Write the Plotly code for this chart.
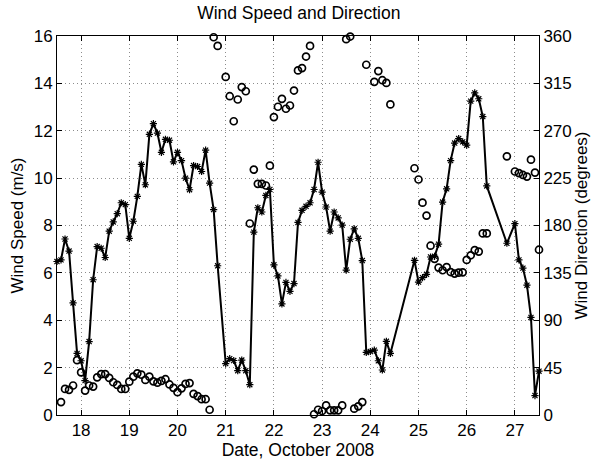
import plotly.graph_objects as go

# hours after 17 Oct 2008 00:00
speed_hours = [12,14,16,18,20,22,24,26,28,30,32,34,36,38,40,42,44,46,48,50,52,54,56,58,60,62,64,66,68,70,72,74,76,78,80,82,84,86,88,90,92,
               96,98,100,102,104,106,108,110,112,114,116,118,120,122,124,126,128,130,132,134,136,138,140,142,144,146,148,150,152,154,156,158,160,162,164,166,168,170,172,174,176,178,
               190,192,194,196,198,200,202,204,206,208,210,212,214,216,218,220,222,224,226,
               236,
               240,242,244,246,248,250,252]
speed = [6.48,6.55,7.43,6.92,4.73,2.60,2.29,1.45,3.10,5.71,7.11,7.04,6.65,7.76,8.15,8.50,8.96,8.88,7.46,8.18,9.23,10.58,9.72,11.85,12.30,11.90,11.09,11.64,11.60,10.69,11.09,10.74,10.00,9.51,10.53,10.49,10.28,11.18,9.79,8.67,6.30,
         2.17,2.38,2.30,1.87,2.32,1.87,1.28,7.72,8.75,8.57,9.27,9.52,6.34,5.87,4.69,5.60,5.22,5.55,8.13,8.64,8.81,8.96,9.52,10.67,9.41,8.78,7.76,8.57,8.32,8.02,6.12,7.42,7.86,7.46,6.52,2.64,2.68,2.74,2.29,1.90,3.11,2.60,
         6.53,5.61,5.80,5.94,6.67,6.70,7.21,8.99,9.55,10.74,11.48,11.67,11.53,11.39,13.25,13.60,13.35,12.60,9.67,
         7.25,
         8.08,6.55,6.20,5.48,4.12,0.82,1.85]

dir_hours = [14,16,18,20,22,24,26,28,30,32,34,36,38,40,42,44,46,48,50,52,54,56,58,60,62,64,66,68,70,72,74,76,78,80,82,84,86,88,90,92,
             96,98,100,102,104,106,108,110,112,114,116,118,120,122,124,126,128,130,132,134,136,138,140,142,144,146,148,150,152,154,156,158,160,162,164,166,
             170,172,174,176,178,
             190,192,194,196,198,200,202,204,206,208,210,212,214,216,218,220,222,224,226,
             236,
             240,242,244,246,248,250,252]
direction = [12.3,24.8,23.9,28.0,52.1,40.5,23.2,28.0,27.0,35.8,38.9,38.9,35.2,31.1,28.6,24.8,24.8,31.7,36.4,39.6,38.3,33.3,36.4,32.0,30.7,32.4,34.0,29.0,25.8,21.7,25.3,29.5,30.3,20.1,18.0,15.0,15.0,5.0,358.8,350.6,
             321.1,302.8,279.0,299.7,311.5,307.5,181.9,233.1,219.6,219.6,218.0,236.8,283.0,292.8,300.3,290.9,294.0,308.2,327.3,329.5,340.5,350.6,0.7,5.0,3.8,9.1,4.4,4.4,4.4,9.1,357.0,359.5,6.0,8.2,12.3,332.7,
             316.5,326.7,318.0,315.4,295.0,
             234.4,223.7,201.7,189.4,160.8,148.3,140.0,137.5,140.5,135.8,134.3,135.2,135.5,147.3,151.7,156.6,155.2,172.5,172.5,
             245.7,
             231.3,229.8,228.0,226.5,242.5,230.3,157.0]

day_ticks = [18, 19, 20, 21, 22, 23, 24, 25, 26, 27]
speed_ticks = [0, 2, 4, 6, 8, 10, 12, 14, 16]
dir_ticks = [0, 45, 90, 135, 180, 225, 270, 315, 360]

speed_days = [17 + h / 24 for h in speed_hours]
dir_days = [17 + h / 24 for h in dir_hours]

FONT = "Liberation Sans, Arial, Helvetica, sans-serif"
GRID = "#8c8c8c"
DASH = "1px,3px"

fig = go.Figure()
fig.add_trace(go.Scatter(
    x=speed_days, y=speed, mode="lines+markers",
    line=dict(color="black", width=2),
    marker=dict(symbol="asterisk-open", size=6, color="black", line=dict(color="black", width=1.2)),
    yaxis="y", showlegend=False, cliponaxis=False))
fig.add_trace(go.Scatter(
    x=dir_days, y=direction, mode="markers",
    marker=dict(symbol="circle-open", size=7, color="black", line=dict(color="black", width=1.7)),
    yaxis="y2", showlegend=False, cliponaxis=False))

fig.update_layout(
    width=600, height=466,
    margin=dict(l=57, r=59, t=36, b=48),
    paper_bgcolor="white", plot_bgcolor="white",
    font=dict(family=FONT, size=17, color="black"),
    title=dict(text="Wind Speed and Direction", x=0.498, xanchor="center",
               y=1 - 13 / 466, yanchor="middle", yref="container",
               font=dict(size=17.5, family=FONT, color="black")),
    xaxis=dict(range=[17.5, 27.5], tickvals=day_ticks, ticks="inside", ticklen=5,
               tickcolor="black", showline=True, linecolor="black", linewidth=1,
               mirror="ticks", showgrid=True, gridcolor=GRID, griddash=DASH,
               gridwidth=1, zeroline=False,
               title=dict(text="Date, October 2008", standoff=1, font=dict(size=17.5)),
               tickfont=dict(size=17)),
    yaxis=dict(range=[0, 16], tickvals=speed_ticks, ticks="inside", ticklen=5,
               tickcolor="black", showline=True, linecolor="black", linewidth=1,
               showgrid=True, gridcolor=GRID, griddash=DASH, gridwidth=1,
               zeroline=False,
               title=dict(text="Wind Speed (m/s)", standoff=5, font=dict(size=17)),
               tickfont=dict(size=17)),
    yaxis2=dict(range=[0, 360], tickvals=dir_ticks, overlaying="y", side="right",
                ticks="inside", ticklen=5, tickcolor="black", showline=True,
                linecolor="black", linewidth=1, showgrid=False, zeroline=False,
                title=dict(text="Wind Direction (degrees)", standoff=4, font=dict(size=17)),
                tickfont=dict(size=17)),
)

fig.write_html("out.html")
